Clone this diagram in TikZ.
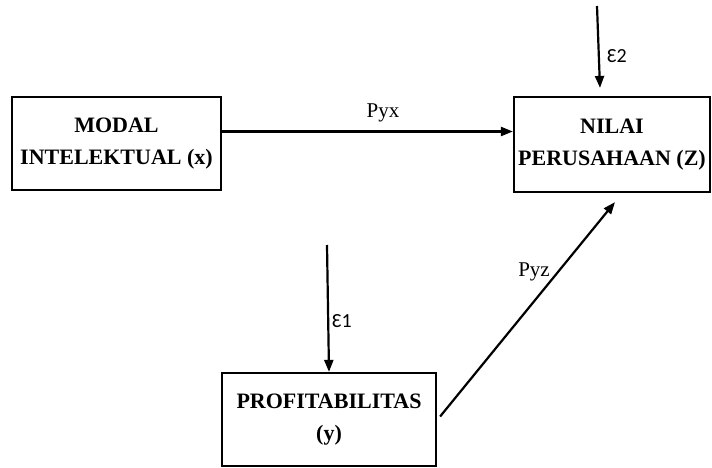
\documentclass[tikz,border=0pt]{standalone}
\usepackage{fontspec}
\setmainfont{Liberation Serif}
\newfontfamily\calib{Carlito}
\usetikzlibrary{arrows.meta}
\begin{document}
\begin{tikzpicture}[x=1pt,y=-1pt,
  box/.style={draw, line width=2.2pt, inner sep=0pt, align=center,
    font=\bfseries\fontsize{22}{32}\selectfont},
  conn/.style={line width=2.2pt, -{Triangle[length=12pt,width=9pt]}},
  lbl/.style={inner sep=0pt, font=\fontsize{21}{24}\selectfont},
  eps/.style={inner sep=0pt, font=\calib\fontsize{20}{24}\selectfont}]
\useasboundingbox (0,0) rectangle (712,468);
\node[box, minimum width=209pt, minimum height=93pt] (m) at (116.5,143.5) {MODAL\\INTELEKTUAL (x)};
\node[box, minimum width=196pt, minimum height=95pt] (z) at (612,144.5) {NILAI\\PERUSAHAAN (Z)};
\node[box, minimum width=214pt, minimum height=93pt] (p) at (329,419.5) {PROFITABILITAS\\(y)};
\coordinate (e2s) at (597,6);
\coordinate (e1s) at (327,245);
\draw[conn] (e2s) -- ([xshift=-12pt,yshift=8pt]z.north);
\draw[conn] (e1s) -- (p.north);
\draw[conn] ([yshift=12pt]m.east) -- ([yshift=13pt]z.west);
\draw[conn] ([xshift=3pt,yshift=3pt]p.east) -- ([xshift=3pt,yshift=-9pt]z.south);
\node[lbl, anchor=base] (lpyx) at (383,118) {Pyx};
\node[lbl, anchor=base] (lpyz) at (534,276) {Pyz};
\node[eps, anchor=base west] (le2) at (607,63) {Ɛ2};
\node[eps, anchor=base west] (le1) at (332,327) {Ɛ1};
\end{tikzpicture}
\end{document}
